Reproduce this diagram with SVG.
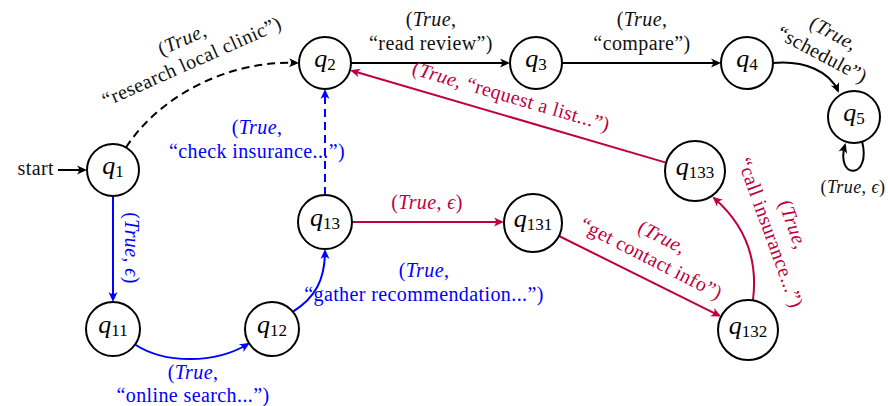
<svg xmlns="http://www.w3.org/2000/svg" width="888" height="406" viewBox="0 0 888 406">
<defs>
<style>
.t{font-family:"Liberation Serif","DejaVu Serif",serif;font-size:20px;letter-spacing:0.4px}
.i{font-style:italic}
.k{fill:#111}
.b{fill:#0000ff}
.p{fill:#bf0040}
.e{fill:none;stroke-width:2}
.ek{stroke:#000}
.eb{stroke:#0000ff}
.ep{stroke:#bf0040}
.d{stroke-dasharray:8 5}
.n circle{fill:#fff;stroke:#000;stroke-width:2}
.n text{font-family:"Liberation Serif","DejaVu Serif",serif;font-size:26px;fill:#000}
.n .s{font-size:17px;font-style:normal}
</style>
<marker id="ak" markerUnits="userSpaceOnUse" markerWidth="14" markerHeight="12" refX="9" refY="6" orient="auto" overflow="visible"><path d="M11,6 L1,1.5 Q5,6 1,10.5 Z" fill="#000"/></marker>
<marker id="ab" markerUnits="userSpaceOnUse" markerWidth="14" markerHeight="12" refX="9" refY="6" orient="auto" overflow="visible"><path d="M11,6 L1,1.5 Q5,6 1,10.5 Z" fill="#0000ff"/></marker>
<marker id="ap" markerUnits="userSpaceOnUse" markerWidth="14" markerHeight="12" refX="9" refY="6" orient="auto" overflow="visible"><path d="M11,6 L1,1.5 Q5,6 1,10.5 Z" fill="#bf0040"/></marker>
</defs>
<rect width="888" height="406" fill="#fff"/>
<g id="connectors">
<text class="t k" x="54" y="175" text-anchor="end">start</text>
<path class="e ek" d="M58,170 L85,170" marker-end="url(#ak)"/>
<path class="e ek d" d="M126,147.5 C160,95 230,60 297,63" marker-end="url(#ak)"/>
<path class="e ek" d="M351,63 L508,63" marker-end="url(#ak)"/>
<path class="e ek" d="M562,63 L719,63" marker-end="url(#ak)"/>
<path class="e ek" d="M773,63 C805,60 830,72 838,91" marker-end="url(#ak)"/>
<path class="e ek" d="M862,141 C872,180 835,180 845,145" marker-end="url(#ak)"/>
<path class="e eb" d="M113,196 L113,300" marker-end="url(#ab)"/>
<path class="e eb" d="M135,344.5 C165,364 215,364 248,344" marker-end="url(#ab)"/>
<path class="e eb" d="M293,311.6 C315,298 325,280 325,251" marker-end="url(#ab)"/>
<path class="e eb d" d="M325,195 L325,91" marker-end="url(#ab)"/>
<path class="e ep" d="M352,222 L502,222" marker-end="url(#ap)"/>
<path class="e ep" d="M559,236 L719.3,315.7" marker-end="url(#ap)"/>
<path class="e ep" d="M753,300 C758,260 745,225 714,198" marker-end="url(#ap)"/>
<path class="e ep" d="M666,162.6 L352,70.8" marker-end="url(#ap)"/>

<g transform="translate(192,62) rotate(-24)">
<text class="t k" x="0" y="-18" text-anchor="middle">(<tspan class="i">True</tspan>,</text>
<text class="t k" x="0" y="6" text-anchor="middle">“research local clinic”)</text>
</g>
<text class="t k" x="431" y="26" text-anchor="middle">(<tspan class="i">True</tspan>,</text>
<text class="t k" x="431" y="50" text-anchor="middle">“read review”)</text>
<text class="t k" x="642" y="26" text-anchor="middle">(<tspan class="i">True</tspan>,</text>
<text class="t k" x="642" y="50" text-anchor="middle">“compare”)</text>
<g transform="translate(822,55) rotate(28)">
<text class="t k" x="0" y="-18" text-anchor="middle">(<tspan class="i">True</tspan>,</text>
<text class="t k" x="0" y="6" text-anchor="middle">“schedule”)</text>
</g>
<text class="t k" x="853" y="193" text-anchor="middle" style="font-size:18px">(<tspan class="i">True</tspan>, <tspan class="i">ϵ</tspan>)</text>
<g transform="translate(130,248) rotate(90)">
<text class="t b" x="0" y="5" text-anchor="middle">(<tspan class="i">True</tspan>, <tspan class="i">ϵ</tspan>)</text>
</g>
<text class="t b" x="193" y="379" text-anchor="middle">(<tspan class="i">True</tspan>,</text>
<text class="t b" x="193" y="402" text-anchor="middle">“online search...”)</text>
<text class="t b" x="257" y="134" text-anchor="middle">(<tspan class="i">True</tspan>,</text>
<text class="t b" x="257" y="158" text-anchor="middle">“check insurance...”)</text>
<text class="t b" x="424" y="277" text-anchor="middle">(<tspan class="i">True</tspan>,</text>
<text class="t b" x="424" y="301" text-anchor="middle">“gather recommendation...”)</text>
<text class="t p" x="427" y="209" text-anchor="middle">(<tspan class="i">True</tspan>, <tspan class="i">ϵ</tspan>)</text>
<g transform="translate(651,259) rotate(27)">
<text class="t p" x="0" y="-18" text-anchor="middle">(<tspan class="i">True</tspan>,</text>
<text class="t p" x="0" y="6" text-anchor="middle">“get contact info”)</text>
</g>
<g transform="translate(770,233) rotate(70)">
<text class="t p" x="0" y="-18" text-anchor="middle">(<tspan class="i">True</tspan>,</text>
<text class="t p" x="0" y="6" text-anchor="middle">“call insurance...”)</text>
</g>
<g transform="translate(511,97) rotate(16.3)">
<text class="t p" x="0" y="6" text-anchor="middle">(<tspan class="i">True</tspan>, “request a list...”)</text>
</g>
</g>
<g id="q1" class="n"><circle cx="113" cy="170" r="26"/><text x="113" y="174" text-anchor="middle"><tspan class="i">q</tspan><tspan class="s" dy="3">1</tspan></text></g>
<g id="q2" class="n"><circle cx="325" cy="63" r="26"/><text x="325" y="67" text-anchor="middle"><tspan class="i">q</tspan><tspan class="s" dy="3">2</tspan></text></g>
<g id="q3" class="n"><circle cx="536" cy="63" r="26"/><text x="536" y="67" text-anchor="middle"><tspan class="i">q</tspan><tspan class="s" dy="3">3</tspan></text></g>
<g id="q4" class="n"><circle cx="747" cy="63" r="26"/><text x="747" y="67" text-anchor="middle"><tspan class="i">q</tspan><tspan class="s" dy="3">4</tspan></text></g>
<g id="q5" class="n"><circle cx="854" cy="117" r="26"/><text x="854" y="121" text-anchor="middle"><tspan class="i">q</tspan><tspan class="s" dy="3">5</tspan></text></g>
<g id="q11" class="n"><circle cx="113" cy="329" r="27"/><text x="113" y="333" text-anchor="middle"><tspan class="i">q</tspan><tspan class="s" dy="3">11</tspan></text></g>
<g id="q12" class="n"><circle cx="272" cy="329" r="27"/><text x="272" y="333" text-anchor="middle"><tspan class="i">q</tspan><tspan class="s" dy="3">12</tspan></text></g>
<g id="q13" class="n"><circle cx="325" cy="222" r="27"/><text x="325" y="226" text-anchor="middle"><tspan class="i">q</tspan><tspan class="s" dy="3">13</tspan></text></g>
<g id="q131" class="n"><circle cx="533" cy="223" r="29"/><text x="533" y="227" text-anchor="middle"><tspan class="i">q</tspan><tspan class="s" dy="3">131</tspan></text></g>
<g id="q132" class="n"><circle cx="748" cy="330" r="30"/><text x="748" y="334" text-anchor="middle"><tspan class="i">q</tspan><tspan class="s" dy="3">132</tspan></text></g>
<g id="q133" class="n"><circle cx="695" cy="171" r="30"/><text x="695" y="175" text-anchor="middle"><tspan class="i">q</tspan><tspan class="s" dy="3">133</tspan></text></g>
</svg>
